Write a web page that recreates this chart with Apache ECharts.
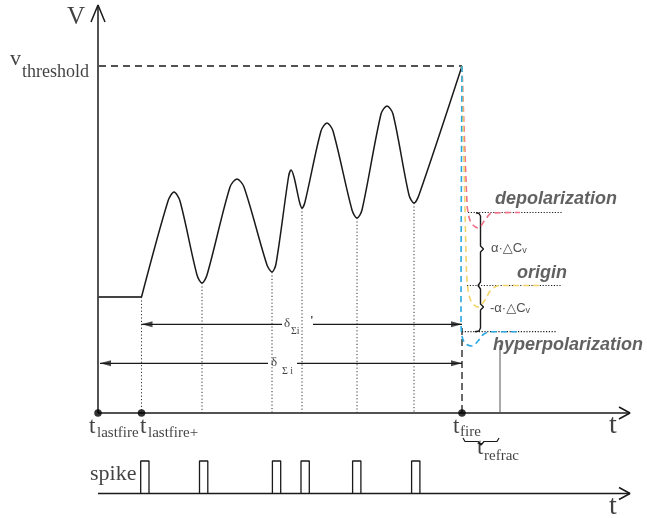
<!DOCTYPE html>
<html><head><meta charset="utf-8">
<script src="https://cdn.jsdelivr.net/npm/echarts@6/dist/echarts.min.js"></script>
<style>html,body{margin:0;padding:0;background:#fff}#c{width:647px;height:518px}</style>
</head><body><div id="c"></div>
<script>
// ---- key times (t axis units) and voltage levels (V axis units) ----
const T_LASTFIRE = 0, T_LASTFIRE_PLUS = 43.5, T_FIRE = 364, T_REFRAC_END = 402, T_AXIS_END = 532;
const V_REST = 116, V_THRESHOLD = 347, V_DEPOL = 200.5, V_ORIGIN = 127.5, V_HYPER = 81.3, V_AXIS_TOP = 408;
// membrane potential trace (peaks, troughs and their shoulders)
const memT = [43.5, 70, 76, 82, 99, 104, 109, 132, 139, 146, 169, 174, 178, 190.5, 193, 196, 201.5, 204, 207,
              223, 229, 235, 254, 259, 264, 283, 289, 295, 311, 316, 321, 364];
const memV = [116, 212, 221, 212, 138, 130, 138, 226, 234, 226, 148, 141, 149, 236, 243, 236, 211, 205, 211,
              282, 290, 282, 203, 195, 203, 299, 307, 299, 218, 210, 218, 347];
// drop lines from troughs
const dropT = [43.5, 104, 174, 204, 259, 316];
const dropV = [116, 130, 141, 205, 195, 210];
// after-fire reset curves
const depolT = [364, 369, 371, 374, 380, 387, 394, 422];
const depolV = [347, 210, 196, 189, 185, 193, 200, 200.5];
const originT = [364, 368, 369.5, 373, 380, 387, 393, 402, 445];
const originV = [347, 160, 128, 112, 106, 113, 123, 127.5, 127.5];
const hyperT = [364, 363, 363.5, 367, 374, 380, 386, 395, 422];
const hyperV = [347, 100, 80, 70, 67, 72, 79, 81.3, 81.3];
// spike train
const spikeT = [42.7, 101.5, 174.4, 203, 254.6, 313.6];
const SPIKE_BASE = -80.5, SPIKE_H = 32.5, SPIKE_W = 8.3;

const BLACK = '#1a1a1a';
const SERIF = 'Liberation Serif';
const SANS = 'Liberation Sans';
const series = [];
function zip(a, b) { return a.map((v, i) => [v, b[i]]); }
function line(pts, color, width, type, z, smooth) {
  series.push({type: 'line', data: pts, symbol: 'none', smooth: smooth || false,
    lineStyle: {color: color, width: width, type: type || 'solid'}, z: z || 2,
    silent: true, animation: false, clip: false});
}
// axes
line([[T_LASTFIRE, 0], [T_LASTFIRE, V_AXIS_TOP]], BLACK, 1.5);
line([[-7, V_AXIS_TOP - 17], [0, V_AXIS_TOP], [7, V_AXIS_TOP - 17]], BLACK, 1.5);
line([[0, 0], [T_AXIS_END, 0]], BLACK, 1.5);
line([[T_AXIS_END - 11, 6], [T_AXIS_END, 0], [T_AXIS_END - 11, -6]], BLACK, 1.5);
line([[0, SPIKE_BASE], [T_AXIS_END, SPIKE_BASE]], BLACK, 1.5);
line([[T_AXIS_END - 11, SPIKE_BASE + 6], [T_AXIS_END, SPIKE_BASE], [T_AXIS_END - 11, SPIKE_BASE - 6]], BLACK, 1.5);
// threshold
line([[1, V_THRESHOLD], [T_FIRE, V_THRESHOLD]], BLACK, 1.3, [7, 5]);
// membrane
line([[T_LASTFIRE, V_REST], [T_LASTFIRE_PLUS, V_REST]], '#444', 2);
line(zip(memT, memV), BLACK, 1.5, 'solid', 3, 0.3);
// drop lines
dropT.forEach((t, i) => line([[t, dropV[i]], [t, 0]], '#333', 1, [1.2, 2.2]));
// fire vertical
line([[T_FIRE, 85], [T_FIRE, 0]], BLACK, 1.3, [7, 4]);
// refractory line
line([[T_REFRAC_END, 68], [T_REFRAC_END, 0]], '#555', 1);
// reference levels
line([[370, V_DEPOL], [465, V_DEPOL]], '#222', 1.2, [1.2, 1.6]);
line([[369, V_ORIGIN], [463, V_ORIGIN]], '#222', 1.2, [1.2, 1.6]);
line([[364, V_HYPER], [458, V_HYPER]], '#222', 1.2, [1.2, 1.6]);
// reset curves
line(zip(depolT, depolV), '#ef6f86', 1.6, [6, 4], 5, 0.35);
line(zip(originT, originV), '#f4d46a', 1.6, [6, 4], 5, 0.35);
line(zip(hyperT, hyperV), '#2ba8e0', 1.6, [6, 4], 6, 0.35);
// right brace
line([[378, 200.3], [381, 199.5], [382.5, 197], [382.5, 167], [385.5, 164], [382.5, 161], [382.5, 131],
      [380, 127.5], [382.5, 124], [382.5, 109], [385.5, 106], [382.5, 103], [382.5, 85], [381, 82], [377, 81.3]], BLACK, 1.4);
// brace under t_fire .. t_refrac
line([[T_FIRE + 1, -25], [T_FIRE + 3, -28.5], [380, -28.5], [383, -32], [386, -28.5], [T_REFRAC_END - 3, -28.5], [T_REFRAC_END - 1, -25]], BLACK, 1.2);
// delta dimension lines
const D1 = 88.7, D2 = 49.7;
line([[T_LASTFIRE_PLUS, D1], [184, D1]], BLACK, 1.3);
line([[215, D1], [T_FIRE, D1]], BLACK, 1.3);
line([[2, D2], [170, D2]], BLACK, 1.3);
line([[199, D2], [T_FIRE, D2]], BLACK, 1.3);
// spikes
spikeT.forEach(t => line([[t, SPIKE_BASE], [t, SPIKE_BASE + SPIKE_H], [t + SPIKE_W, SPIKE_BASE + SPIKE_H], [t + SPIKE_W, SPIKE_BASE]], BLACK, 1.3));
// arrowheads + dots
series.push({type: 'scatter', symbol: 'triangle', symbolSize: [6, 11], silent: true, animation: false, z: 7,
  itemStyle: {color: BLACK},
  data: [
    {value: [T_LASTFIRE_PLUS + 5.5, D1], symbolRotate: 90},
    {value: [T_FIRE - 5.5, D1], symbolRotate: -90},
    {value: [2 + 5.5, D2], symbolRotate: 90},
    {value: [T_FIRE - 5.5, D2], symbolRotate: -90}
  ]});
series.push({type: 'scatter', symbol: 'circle', symbolSize: 7.5, silent: true, animation: false, z: 8,
  itemStyle: {color: '#000'}, data: [[T_LASTFIRE, 0], [T_LASTFIRE_PLUS, 0], [T_FIRE, 0]]});
// texts
const texts = [];
function txt(str, t, V, size, family, extra) {
  const lab = Object.assign({show: true, formatter: str, position: 'inside', align: 'left', verticalAlign: 'middle',
    fontSize: size, fontFamily: family, color: '#111'}, extra || {});
  texts.push({value: [t, V], label: lab});
}
txt('V', -31, 396, 25, SERIF);
txt('v', -88, 353.5, 22, SERIF);
txt('threshold', -76, 341, 18, SERIF);
txt('t', -9, -14, 23, SERIF);
txt('lastfire', -1, -20, 15, SERIF);
txt('t', 42, -14, 23, SERIF);
txt('lastfire+', 50, -20, 15, SERIF);
txt('t', 355, -14, 23, SERIF);
txt('fire', 362, -19, 15, SERIF);
txt('t', 379, -35, 23, SERIF);
txt('refrac', 386, -43, 15, SERIF);
txt('t', 511, -12.5, 28, SERIF);
txt('t', 511, -93.5, 28, SERIF);
txt('spike', -8, -61.5, 22, SERIF);
const bi = {fontStyle: 'italic', fontWeight: 'bold', color: '#3a3a3a'};
txt('depolarization', 397, 214, 18, SANS, bi);
txt('origin', 419, 140, 18, SANS, bi);
txt('hyperpolarization', 395, 68, 18, SANS, bi);
const richA = {a: {fontSize: 13, fontFamily: SANS + ',DejaVu Sans', color: '#222'}, b: {fontSize: 9, fontFamily: SANS, color: '#222', padding: [6, 0, 0, 0]}};
txt('{a|α·△C}{b|v}', 393, 165, 13, SANS, {rich: richA});
txt('{a|-α·△C}{b|v}', 392, 105, 13, SANS, {rich: richA});
txt('δ', 186, 89, 13, SERIF);
txt('Σi', 193, 81.5, 10, SERIF);
txt('\'', 212, 92, 13, SERIF, {fontWeight: 'bold'});
txt('δ', 173, 50, 13, SERIF);
txt('Σ i', 184, 42, 10, SERIF);
series.push({type: 'scatter', symbolSize: 1, silent: true, animation: false, z: 10,
  itemStyle: {color: 'rgba(0,0,0,0)'}, data: texts});

const chart = echarts.init(document.getElementById('c'), null, {renderer: 'canvas'});
chart.setOption({
  animation: false,
  backgroundColor: '#fff',
  grid: {left: 0, right: 0, top: 0, bottom: 0},
  xAxis: {type: 'value', min: -98, max: 549, show: false},
  yAxis: {type: 'value', min: -105, max: 413, show: false},
  series: series
});
</script></body></html>
